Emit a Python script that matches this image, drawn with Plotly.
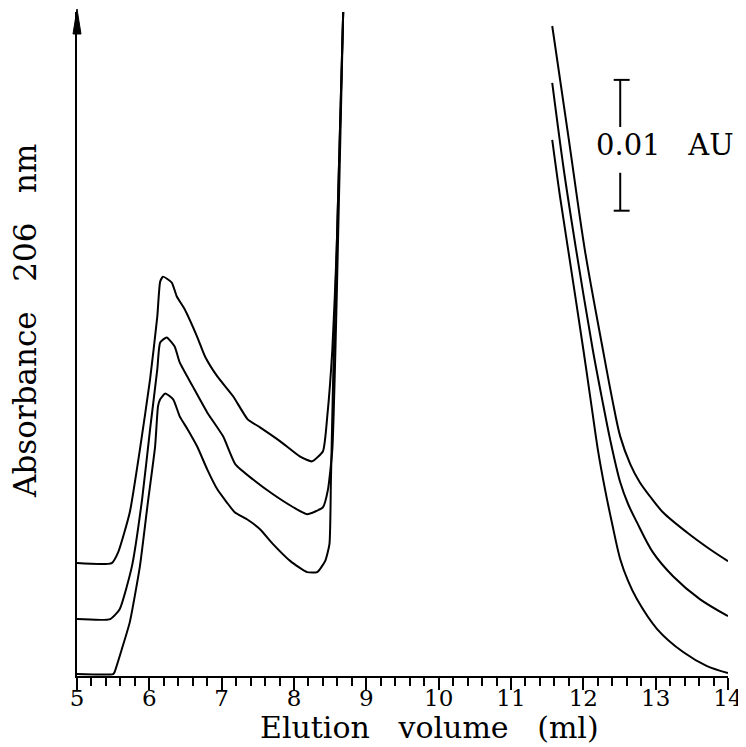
import plotly.graph_objects as go

# Elution volume (ml) and absorbance (mAU, baseline of lowest trace = 0)
# left part: void peak + start of salt peak
vol_a = [5.00, 5.48, 5.57, 5.73, 5.87, 6.01, 6.11, 6.15, 6.19, 6.31, 6.38, 6.49, 6.66,
         6.77, 6.94, 7.16, 7.36, 7.53, 7.81, 8.08, 8.25, 8.40, 8.46, 8.53, 8.59, 8.68]
abs_a = [8.63, 8.63, 9.47, 12.52, 17.33, 22.67, 27.48, 30.15, 30.53, 30.08, 29.01, 28.02, 25.95,
         24.43, 22.90, 21.37, 19.62, 19.01, 17.94, 16.79, 16.41, 17.18, 19.85, 24.96, 32.60, 50.76]

vol_b = [5.00, 5.46, 5.59, 5.76, 5.90, 6.01, 6.11, 6.15, 6.24, 6.35, 6.42, 6.60, 6.80,
         7.02, 7.19, 7.43, 7.71, 7.99, 8.18, 8.40, 8.47, 8.53, 8.59, 8.68]
abs_b = [4.35, 4.35, 5.11, 8.40, 13.51, 18.85, 23.44, 25.50, 25.88, 25.19, 23.97, 22.14, 20.15,
         18.32, 16.18, 15.04, 13.89, 12.90, 12.37, 12.90, 14.27, 17.33, 28.78, 50.76]

vol_c = [5.00, 5.50, 5.52, 5.62, 5.73, 5.87, 5.98, 6.08, 6.12, 6.15, 6.22, 6.33, 6.42, 6.53,
         6.66, 6.80, 6.94, 7.07, 7.18, 7.35, 7.53, 7.71, 7.95, 8.18, 8.32, 8.43, 8.49, 8.51,
         8.54, 8.59, 8.68]
abs_c = [0.15, 0.15, 0.31, 2.06, 4.12, 8.40, 13.28, 17.56, 20.61, 21.15, 21.60, 21.15, 19.85, 18.85,
         17.56, 15.80, 14.27, 13.28, 12.52, 11.98, 11.22, 10.08, 8.78, 7.94, 7.94, 8.78, 10.08, 14.81,
         22.44, 32.60, 50.76]

# right part: tail of the off-scale peak
vol_a2 = [11.57, 11.80, 12.02, 12.27, 12.40, 12.51, 12.65, 12.78, 12.92, 13.10, 13.43, 13.75, 14.00]
abs_a2 = [49.69, 40.99, 32.60, 24.96, 21.15, 18.32, 16.18, 14.81, 13.74, 12.52, 10.99, 9.69, 8.78]

vol_b2 = [11.57, 11.73, 11.90, 12.13, 12.26, 12.37, 12.51, 12.62, 12.74, 12.96, 13.24, 13.61, 14.00]
abs_b2 = [45.34, 38.70, 32.60, 24.96, 21.15, 18.09, 14.81, 13.13, 11.76, 9.47, 7.63, 5.88, 4.58]

vol_c2 = [11.57, 11.68, 11.79, 12.00, 12.12, 12.20, 12.30, 12.40, 12.51, 12.62, 12.74, 13.02,
          13.38, 13.71, 14.00]
abs_c2 = [40.99, 36.56, 32.60, 24.96, 20.38, 17.33, 14.27, 11.60, 8.93, 7.25, 5.88, 3.59,
          1.83, 0.76, 0.23]

y_top = 50.76
scale_bar = 10.0  # 0.01 AU in mAU
bar_x = 12.51
bar_y0 = 35.57

font = "DejaVu Serif"
sp = "\u00a0" * 3

fig = go.Figure()
for xs, ys in [(vol_a, abs_a), (vol_b, abs_b), (vol_c, abs_c)]:
    fig.add_trace(go.Scatter(x=xs, y=ys, mode="lines",
                             line=dict(color="black", width=2, shape="spline", smoothing=0.5),
                             showlegend=False, hoverinfo="skip"))
for xs, ys in [(vol_a2, abs_a2), (vol_b2, abs_b2), (vol_c2, abs_c2)]:
    fig.add_trace(go.Scatter(x=xs, y=ys, mode="lines",
                             line=dict(color="black", width=2, shape="spline", smoothing=0.9),
                             showlegend=False, hoverinfo="skip"))

# page body has an 8px margin, so the figure is drawn 8px smaller
fig.update_layout(
    width=738, height=739,
    margin=dict(l=69, r=18, t=4, b=71),
    plot_bgcolor="white", paper_bgcolor="white",
    font=dict(family=font, color="black"),
)

fig.update_xaxes(
    range=[5, 14], showgrid=False, zeroline=False,
    showline=True, linecolor="black", linewidth=2,
    tickmode="linear", tick0=5, dtick=1,
    ticks="outside", ticklen=12, tickwidth=1.6, tickcolor="black",
    minor=dict(dtick=0.2, ticks="outside", ticklen=8, tickwidth=1.5, tickcolor="black", showgrid=False),
    tickfont=dict(size=23, family=font),
    ticklabelstandoff=-12,
)
fig.update_yaxes(
    range=[0, y_top], showgrid=False, zeroline=False,
    showline=True, linecolor="black", linewidth=2,
    showticklabels=False, ticks="",
)

# arrowhead on the y axis
fig.add_shape(type="path", xref="paper", yref="paper", xsizemode="pixel", ysizemode="pixel",
              xanchor=0, yanchor=1, path="M 0 3 L -4 -22 L 4 -22 Z",
              fillcolor="black", line=dict(color="black", width=1))

# axis titles
fig.add_annotation(x=(421 - 69) / (738 - 69 - 18), y=-0.078, xref="paper", yref="paper",
                   text=f"Elution{sp}volume{sp}(ml)", showarrow=False,
                   font=dict(size=30, family=font), yanchor="middle")
fig.add_annotation(x=-0.08, y=(668 - 313) / 664, xref="paper", yref="paper",
                   text=f"Absorbance{sp}206{sp}nm", textangle=-90, showarrow=False,
                   font=dict(size=31, family=font), xanchor="center", yanchor="middle")

# scale bar 0.01 AU
bar_y1 = bar_y0 + scale_bar
fig.add_shape(type="line", x0=bar_x, x1=bar_x, y0=bar_y1, y1=bar_y1 - 3.6,
              line=dict(color="black", width=2))
fig.add_shape(type="line", x0=bar_x, x1=bar_x, y0=bar_y0, y1=bar_y0 + 2.9,
              line=dict(color="black", width=2))
fig.add_shape(type="line", x0=bar_x - 0.09, x1=bar_x + 0.13, y0=bar_y1, y1=bar_y1,
              line=dict(color="black", width=2))
fig.add_shape(type="line", x0=bar_x - 0.09, x1=bar_x + 0.13, y0=bar_y0, y1=bar_y0,
              line=dict(color="black", width=2))
fig.add_annotation(x=13.13, y=bar_y0 + scale_bar / 2, xref="x", yref="y",
                   text="0.01\u00a0\u00a0\u00a0AU", showarrow=False, font=dict(size=29, family=font))

fig.write_html("out.html")
